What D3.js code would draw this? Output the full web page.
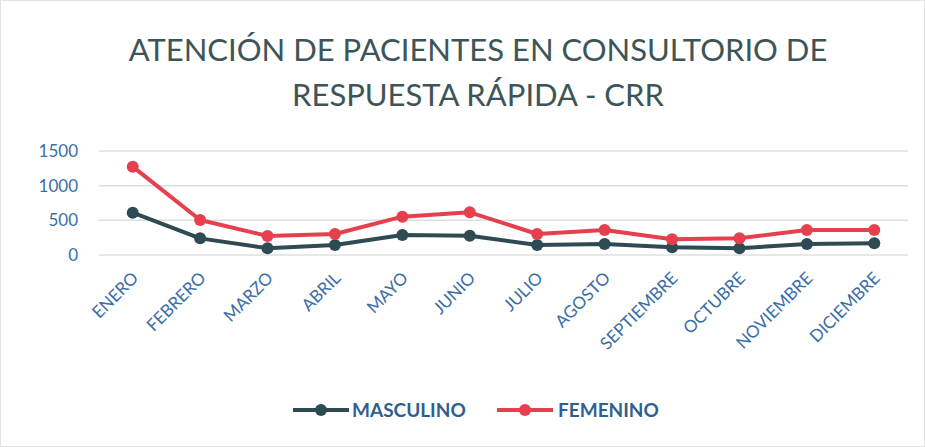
<!DOCTYPE html>
<html>
<head>
<meta charset="utf-8">
<script src="https://cdn.jsdelivr.net/npm/d3@7"></script>
<style>
  body { margin: 0; background: #fff; }
  svg { display: block; font-family: Lato, "Open Sans", sans-serif; }
</style>
</head>
<body>
<script>
// chart data
var months = ['ENERO', 'FEBRERO', 'MARZO', 'ABRIL', 'MAYO', 'JUNIO', 'JULIO',
              'AGOSTO', 'SEPTIEMBRE', 'OCTUBRE', 'NOVIEMBRE', 'DICIEMBRE'];
var masculino = [610, 240, 97, 144, 289, 279, 144, 159, 111, 97, 159, 169];
var femenino = [1274, 505, 274, 303, 553, 616, 303, 361, 226, 241, 361, 361];
var yTicks = [0, 500, 1000, 1500];

var W = 925, H = 447;
var margin = {top: 151, right: 17, bottom: 192, left: 99};

var svg = d3.select('body').append('svg')
    .attr('width', W)
    .attr('height', H);

svg.append('rect')
    .attr('x', 0.5).attr('y', 0.5)
    .attr('width', W - 1).attr('height', H - 1)
    .attr('fill', '#fff')
    .attr('stroke', '#e2e4e4');

// title
var title = svg.append('text')
    .attr('text-anchor', 'middle')
    .attr('fill', '#3d5558')
    .style('font-size', '31px');
title.append('tspan').attr('x', 478).attr('y', 61).text('ATENCIÓN DE PACIENTES EN CONSULTORIO DE');
title.append('tspan').attr('x', 478).attr('y', 106).text('RESPUESTA RÁPIDA - CRR');

var x = d3.scalePoint()
    .domain(months)
    .range([margin.left, W - margin.right])
    .padding(0.5);

var y = d3.scaleLinear()
    .domain([0, 1500])
    .range([H - margin.bottom, margin.top]);

// gridlines
svg.append('g')
  .selectAll('line')
  .data(yTicks)
  .join('line')
    .attr('x1', margin.left)
    .attr('x2', W - margin.right)
    .attr('y1', d => y(d))
    .attr('y2', d => y(d))
    .attr('stroke', '#dcdfe0')
    .attr('stroke-width', 1.5);

// y axis
var yAxis = svg.append('g')
    .attr('transform', 'translate(' + (margin.left - 21) + ',0)')
    .call(d3.axisLeft(y).tickValues(yTicks).tickFormat(d3.format('d')).tickSize(0).tickPadding(0));
yAxis.select('.domain').remove();
yAxis.selectAll('text')
    .attr('fill', '#3a6ea8')
    .style('font-size', '17px')
    .style('font-family', 'Lato, "Open Sans", sans-serif');

// x axis
var xAxis = svg.append('g')
    .attr('transform', 'translate(0,' + (H - margin.bottom + 10) + ')')
    .call(d3.axisBottom(x).tickSize(0).tickPadding(0));
xAxis.select('.domain').remove();
xAxis.selectAll('text')
    .attr('fill', '#3a6ea8')
    .attr('text-anchor', 'end')
    .attr('dy', '0.35em')
    .attr('transform', 'translate(2,10) rotate(-45)')
    .style('font-size', '17px')
    .style('font-family', 'Lato, "Open Sans", sans-serif');

var series = [
  {name: 'MASCULINO', values: masculino, color: '#2e4a52'},
  {name: 'FEMENINO', values: femenino, color: '#e6404f'}
];

var line = d3.line()
    .x((d, i) => x(months[i]))
    .y(d => y(d));

series.forEach(function(s) {
  svg.append('path')
      .datum(s.values)
      .attr('fill', 'none')
      .attr('stroke', s.color)
      .attr('stroke-width', 4)
      .attr('stroke-linejoin', 'round')
      .attr('d', line);

  svg.append('g')
    .selectAll('circle')
    .data(s.values)
    .join('circle')
      .attr('cx', (d, i) => x(months[i]))
      .attr('cy', d => y(d))
      .attr('r', 6)
      .attr('fill', s.color);
});

// legend
var legendX = [293, 497];
var legend = svg.append('g')
  .selectAll('g')
  .data(series)
  .join('g')
    .attr('transform', (d, i) => 'translate(' + legendX[i] + ',410)');
legend.append('line')
    .attr('x1', 0).attr('x2', 56)
    .attr('stroke', d => d.color)
    .attr('stroke-width', 4);
legend.append('circle')
    .attr('cx', 28).attr('r', 6)
    .attr('fill', d => d.color);
legend.append('text')
    .attr('x', (d, i) => i === 0 ? 59 : 61)
    .attr('dy', '0.35em')
    .attr('fill', '#2f5f8f')
    .style('font-size', '19px')
    .style('font-weight', 'bold')
    .text(d => d.name);
</script>
</body>
</html>
